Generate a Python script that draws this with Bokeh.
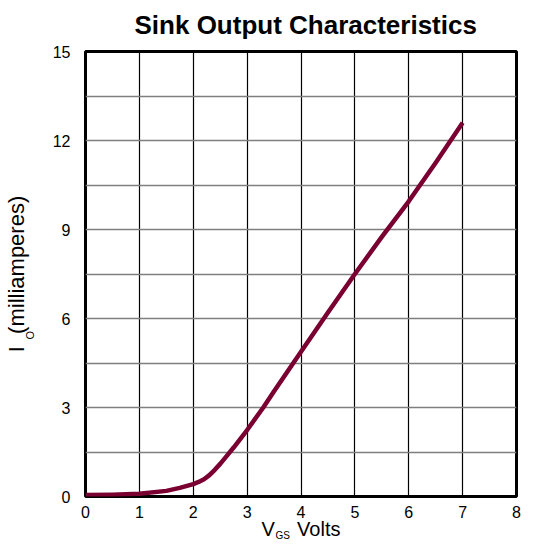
from bokeh.plotting import figure
from bokeh.models import FixedTicker, Title, ColumnDataSource, Range1d
from bokeh.embed import file_html
from bokeh.resources import INLINE

# ---- data ----
vgs_volts = [0.0, 0.5, 1.0, 1.5, 1.75, 2.0, 2.1, 2.2, 2.3, 2.4, 2.5, 2.6, 2.75, 2.9, 3.0,
             3.3, 3.5, 4.0, 4.5, 5.0, 5.5, 6.0, 6.5, 7.0]
io_milliamps = [0.05, 0.06, 0.09, 0.19, 0.29, 0.42, 0.49, 0.58, 0.72, 0.9, 1.1, 1.32, 1.65, 2.0, 2.24,
                3.0, 3.55, 4.88, 6.2, 7.5, 8.75, 9.95, 11.25, 12.6]

x_ticks = [0, 1, 2, 3, 4, 5, 6, 7, 8]
y_ticks = [0, 3, 6, 9, 12, 15]
y_grid_ticks = [0, 1.5, 3, 4.5, 6, 7.5, 9, 10.5, 12, 13.5, 15]

title_text = "Sink Output Characteristics"
x_label_main = "V\u00a0\u00a0\u00a0\u00a0Volts"
x_label_sub = "GS"
y_label_main = "I\u00a0\u00a0(milliamperes)"
y_label_sub = "O"
font = "Liberation Sans"

p = figure(width=521, height=542, output_backend="svg", toolbar_location=None,
           x_range=Range1d(0, 8), y_range=Range1d(0, 15),
           min_border_left=84, min_border_right=5, min_border_top=51, min_border_bottom=45)
p.background_fill_color = "white"
p.border_fill_color = "white"
p.outline_line_color = "black"
p.outline_line_width = 3

p.title.text = title_text
p.title.align = "left"
p.title.offset = 49
p.title.vertical_align = "top"
p.title.standoff = 19
p.title.text_font = font
p.title.text_font_style = "bold"
p.title.text_font_size = "26px"
p.title.text_color = "black"

p.xaxis.ticker = FixedTicker(ticks=x_ticks)
p.yaxis.ticker = FixedTicker(ticks=y_ticks)
p.xgrid.ticker = FixedTicker(ticks=x_ticks)
p.ygrid.ticker = FixedTicker(ticks=y_grid_ticks)
p.xgrid.grid_line_color = "black"
p.xgrid.grid_line_width = 1.2
p.ygrid.grid_line_color = "#7f7f7f"
p.ygrid.grid_line_width = 1.6

for ax in (p.xaxis, p.yaxis):
    ax.axis_line_color = None
    ax.major_tick_line_color = None
    ax.minor_tick_line_color = None
    ax.major_tick_out = 0
    ax.major_tick_in = 0
    ax.minor_tick_out = 0
    ax.major_label_text_font = font
    ax.major_label_text_font_size = "16px"
    ax.major_label_text_color = "black"
    ax.axis_label_text_font = font
    ax.axis_label_text_font_style = "normal"
    ax.axis_label_text_color = "black"
p.xaxis.major_label_standoff = 9
p.yaxis.major_label_standoff = 15

p.xaxis.axis_label = x_label_main
p.xaxis.axis_label_text_font_size = "20px"
p.xaxis.axis_label_standoff = -3
p.yaxis.axis_label = y_label_main
p.yaxis.axis_label_text_font_size = "22px"
p.yaxis.axis_label_standoff = 21

src = ColumnDataSource(dict(x=vgs_volts, y=io_milliamps))
p.line("x", "y", source=src, line_color="#7b0032", line_width=4.5, line_join="round", line_cap="butt")

# subscripts as extra titles pulled back towards the axis labels
p.add_layout(Title(text=x_label_sub, align="left", offset=190, vertical_align="top",
                   standoff=-25, text_font=font, text_font_style="normal",
                   text_font_size="10px", text_color="black"), "below")
p.add_layout(Title(text=y_label_sub, align="left", offset=157, vertical_align="bottom",
                   standoff=-70, text_font=font, text_font_style="normal",
                   text_font_size="11px", text_color="black"), "left")

open("out.html", "w").write(file_html(p, INLINE))
